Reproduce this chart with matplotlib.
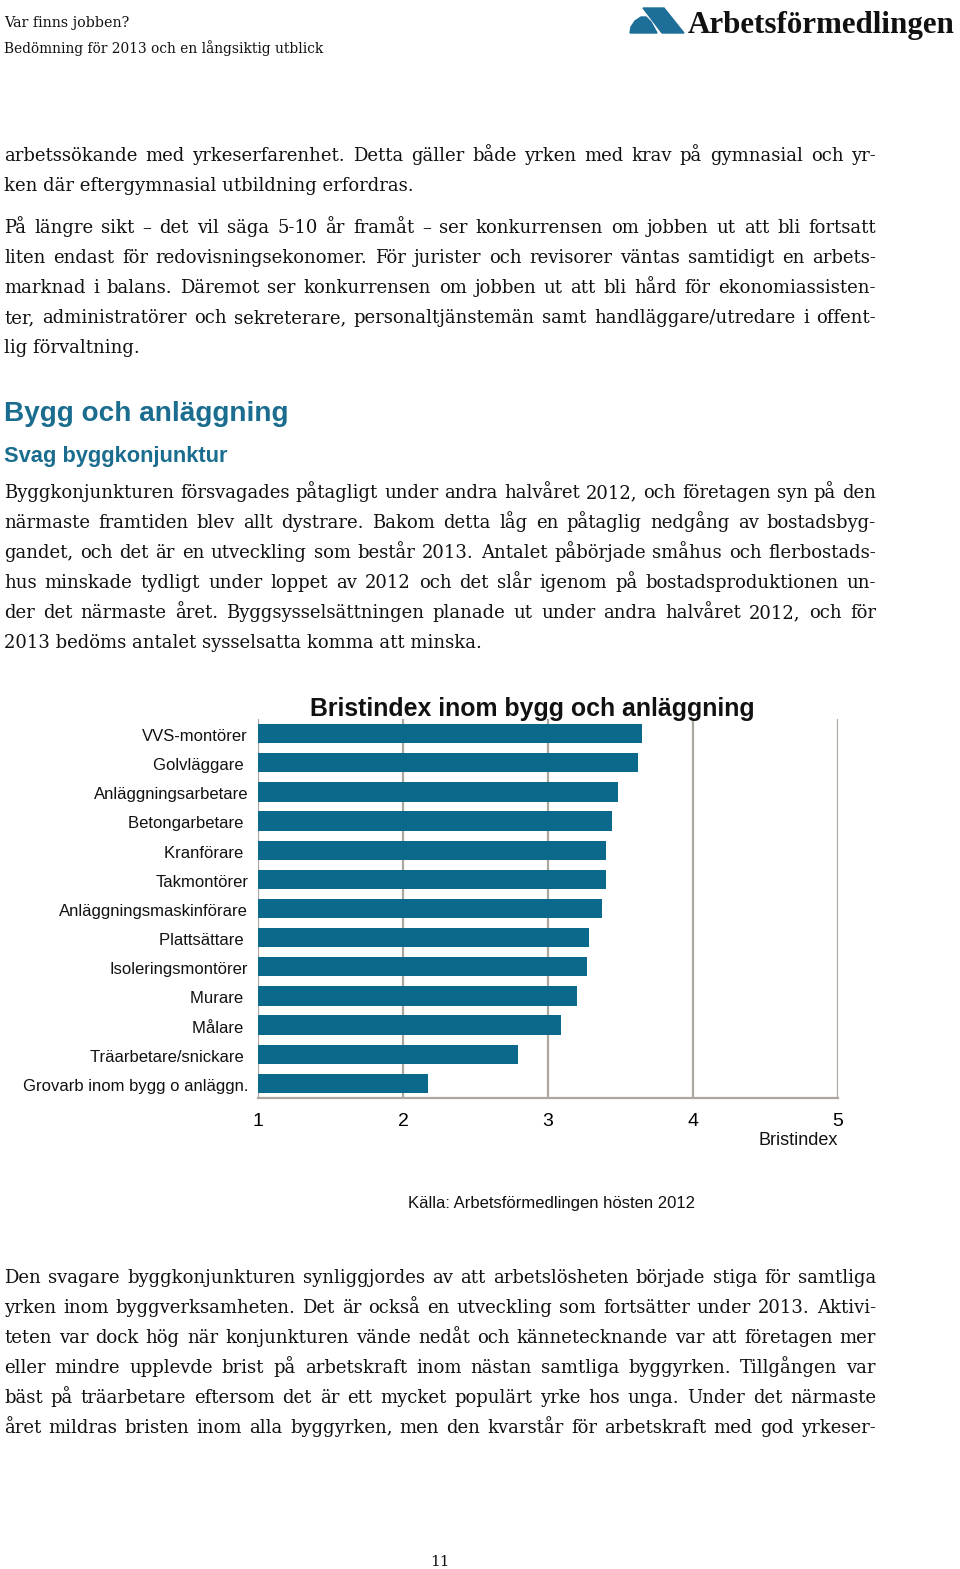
import matplotlib
matplotlib.use('Agg')
import matplotlib.pyplot as plt
from matplotlib.patches import Polygon
import numpy as np

# chart data
categories = ['VVS-montörer', 'Golvläggare ', 'Anläggningsarbetare', 'Betongarbetare ',
              'Kranförare ', 'Takmontörer', 'Anläggningsmaskinförare', 'Plattsättare ',
              'Isoleringsmontörer', 'Murare ', 'Målare ', 'Träarbetare/snickare ',
              'Grovarb inom bygg o anläggn.']
bristindex = [3.65, 3.62, 3.48, 3.44, 3.40, 3.40, 3.37, 3.28, 3.27, 3.20, 3.09, 2.79, 2.17]
xticks = [1, 2, 3, 4, 5]

# page text
para1 = ['arbetssökande med yrkeserfarenhet. Detta gäller både yrken med krav på gymnasial och yr-',
         'ken där eftergymnasial utbildning erfordras.']
para2 = ['På längre sikt – det vil säga 5-10 år framåt – ser konkurrensen om jobben ut att bli fortsatt',
         'liten endast för redovisningsekonomer. För jurister och revisorer väntas samtidigt en arbets-',
         'marknad i balans. Däremot ser konkurrensen om jobben ut att bli hård för ekonomiassisten-',
         'ter, administratörer och sekreterare, personaltjänstemän samt handläggare/utredare i offent-',
         'lig förvaltning.']
para3 = ['Byggkonjunkturen försvagades påtagligt under andra halvåret 2012, och företagen syn på den',
         'närmaste framtiden blev allt dystrare. Bakom detta låg en påtaglig nedgång av bostadsbyg-',
         'gandet, och det är en utveckling som består 2013. Antalet påbörjade småhus och flerbostads-',
         'hus minskade tydligt under loppet av 2012 och det slår igenom på bostadsproduktionen un-',
         'der det närmaste året. Byggsysselsättningen planade ut under andra halvåret 2012, och för',
         '2013 bedöms antalet sysselsatta komma att minska.']
para4 = ['Den svagare byggkonjunkturen synliggjordes av att arbetslösheten började stiga för samtliga',
         'yrken inom byggverksamheten. Det är också en utveckling som fortsätter under 2013. Aktivi-',
         'teten var dock hög när konjunkturen vände nedåt och kännetecknande var att företagen mer',
         'eller mindre upplevde brist på arbetskraft inom nästan samtliga byggyrken. Tillgången var',
         'bäst på träarbetare eftersom det är ett mycket populärt yrke hos unga. Under det närmaste',
         'året mildras bristen inom alla byggyrken, men den kvarstår för arbetskraft med god yrkeser-']

W, H = 960, 1569
fig = plt.figure(figsize=(W / 100, H / 100), dpi=100)
fig.patch.set_facecolor('white')
renderer = fig.canvas.get_renderer()

blue = '#0b6a8c'
serif = 'DejaVu Serif'
sans = 'Liberation Sans'
body_size = 13.0
ink = '#111111'


def fx(x):
    return x / W


def fy(y):
    return 1 - y / H


def txt(x, y, s, **kw):
    return fig.text(fx(x), fy(y), s, **kw)


def width_of(t):
    return t.get_window_extent(renderer).width


def fit(x, y, s, w, **kw):
    t = txt(x, y, s, **kw)
    t.set_fontsize(t.get_fontsize() * w / width_of(t))
    return t


def justified(lines, y0, last_full=False, x0=4, x1=876, step=30):
    for i, line in enumerate(lines):
        y = y0 + i * step
        if i == len(lines) - 1 and not last_full:
            txt(x0, y, line, family=serif, size=body_size, va='baseline', color=ink)
            continue
        words = line.split(' ')
        ts = [txt(0, y, w_, family=serif, size=body_size, va='baseline', color=ink) for w_ in words]
        widths = [width_of(t) for t in ts]
        gap = (x1 - x0 - sum(widths)) / (len(words) - 1)
        xpos = x0
        for t, wd in zip(ts, widths):
            t.set_x(fx(xpos))
            xpos += wd + gap


# header
fit(4, 27, 'Var finns jobben?', 125, family=serif, size=11, va='baseline', color=ink)
fit(4, 53, 'Bedömning för 2013 och en långsiktig utblick', 319, family=serif, size=11,
    va='baseline', color=ink)

# logo
logo_l = [(630, 33), (631, 27), (635, 21), (641, 17), (646, 17), (651, 22), (657, 33)]
logo_r = [(643, 8), (664, 8), (684, 33), (662, 33)]
for pts in (logo_l, logo_r):
    fig.patches.append(Polygon([(fx(a), fy(b)) for a, b in pts], closed=True,
                               transform=fig.transFigure, color='#1d6e99', zorder=3))
fit(688, 33, 'Arbetsförmedlingen', 267, family='Liberation Serif', weight='bold',
    size=22, va='baseline', color=ink)

# body text
justified(para1, 161)
justified(para2, 233)
fit(4, 421, 'Bygg och anläggning', 284, family=sans, weight='bold', size=20,
    va='baseline', color='#1a6d8e')
fit(4, 462, 'Svag byggkonjunktur', 224, family=sans, weight='bold', size=15,
    va='baseline', color='#1a6d8e')
justified(para3, 498)
justified(para4, 1283, last_full=True)

# chart
ax = fig.add_axes([fx(258), fy(1098), fx(838) - fx(258), (1098 - 719) / H])
y = np.arange(len(categories))
ax.barh(y, np.array(bristindex) - 1, left=1, height=0.66, color=blue, zorder=3)
ax.set_ylim(len(categories) - 0.5, -0.5)
ax.set_xlim(1, 5)
for xv in xticks:
    ax.axvline(xv, color='#ada89f', lw=1.6, zorder=1)
for s in ['top', 'right', 'left']:
    ax.spines[s].set_visible(False)
ax.spines['bottom'].set_color('#ada89f')
ax.spines['bottom'].set_linewidth(1.6)
ax.set_xticks(xticks)
ax.set_xticklabels([str(v) for v in xticks], family=sans, size=14)
ax.tick_params(axis='x', length=0, pad=11)
ax.set_yticks([])
for yi, lab in zip(y, categories):
    ax.text(-0.017, yi + 0.1, lab, transform=ax.get_yaxis_transform(), ha='right', va='center',
            family=sans, size=12, color=ink)

fit(310, 716, 'Bristindex inom bygg och anläggning', 447, family=sans, weight='bold',
    size=17, va='baseline', color=ink)
txt(838, 1145, 'Bristindex', family=sans, size=13, ha='right', va='baseline', color=ink)
txt(551, 1208, 'Källa: Arbetsförmedlingen hösten 2012', family=sans, size=12, ha='center',
    va='baseline', color=ink)

# page number
txt(440, 1566, '11', family=serif, size=11, ha='center', va='baseline', color=ink)

fig.savefig('out.png', dpi=100, facecolor='white')
